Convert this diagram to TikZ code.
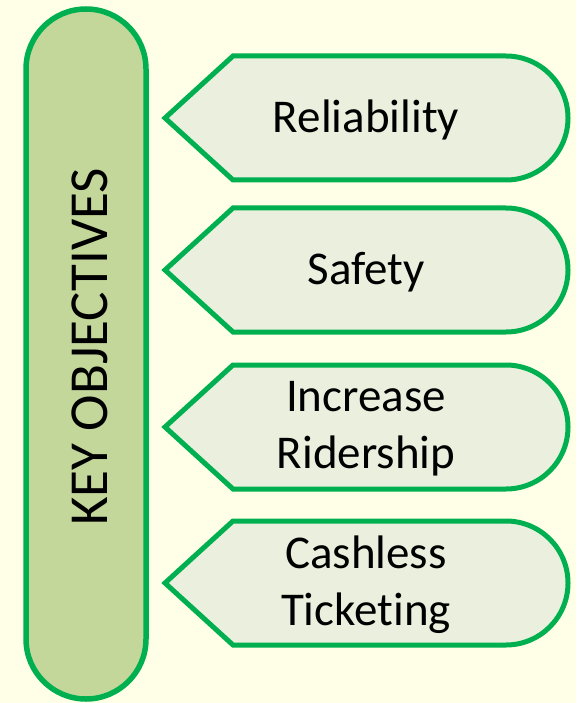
\documentclass[tikz,border=0pt]{standalone}
\usepackage{fontspec}
\setmainfont{Carlito}[Ligatures=NoCommon]
\usetikzlibrary{calc}
\definecolor{bgcream}{HTML}{FFFFE8}
\definecolor{objgreen}{HTML}{00B050}
\definecolor{capsfill}{HTML}{C4D79B}
\definecolor{tagfill}{HTML}{EBF0DE}

\begin{document}
\begin{tikzpicture}[x=1pt, y=-1pt,
    tag/.style={draw=objgreen, line width=5pt, fill=tagfill},
    objtext/.style={font=\fontsize{47}{57}\selectfont, align=center}]
    \fill[bgcream] (0,0) rectangle (576,703);
    \useasboundingbox (0,0) rectangle (576,703);

    % left capsule
    \draw[draw=objgreen, line width=5.5pt, fill=capsfill, rounded corners=60pt] (26,9) rectangle (146,699);
    \node[objtext, font=\fontsize{55}{66}\selectfont, rotate=90] (keyobj) at (90,347) {KEY OBJECTIVES};

    % objective tags
    \foreach \c/\txt [count=\i] in {118/Reliability, 270/Safety, 427/{Increase\\Ridership}, 583/{Cashless\\Ticketing}} {
        \draw[tag] (165,\c) -- (233,\c-62) -- (506,\c-62) arc[start angle=-90, end angle=90, radius=62] -- (233,\c+62) -- cycle;
        \node[objtext] (obj\i) at (366,\c+2) {\txt};
    }
\end{tikzpicture}
\end{document}
